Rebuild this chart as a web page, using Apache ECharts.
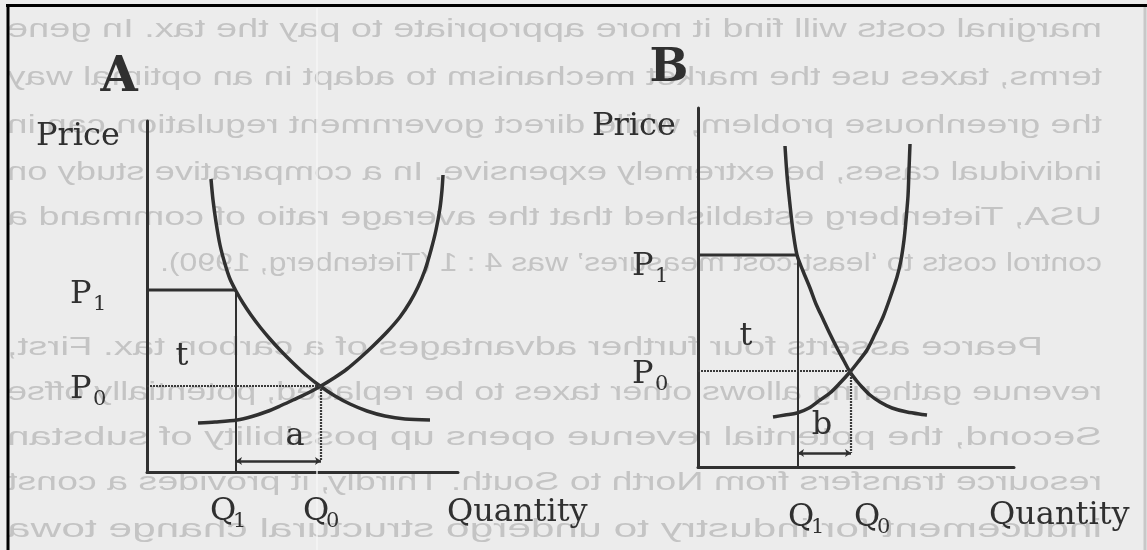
<!DOCTYPE html>
<html>
<head>
<meta charset="utf-8">
<script src="https://cdn.jsdelivr.net/npm/echarts@6/dist/echarts.min.js"></script>
<style>
  html, body { margin: 0; padding: 0; background: #ececec; }
  #chart { width: 1147px; height: 550px; }
</style>
</head>
<body>
<div id="chart"></div>
<script>
// panel A: [quantity, price] (origin = axis corner)
const demandA = [[64, 293], [66, 272], [69, 250], [73, 227], [78, 208], [83, 193], [89, 181], [96, 169], [104, 157], [113, 145], [123, 133], [134, 121], [146, 109], [159, 97], [173, 86], [188, 76], [203, 68], [220, 61], [238, 56], [258, 53], [283, 52]];
const supplyA = [[51, 49], [68, 50], [90, 52], [105, 55.5], [120, 60.5], [133, 66], [146, 72], [160, 78.5], [173, 85.5], [187, 94], [200, 103], [213, 114], [226, 126], [240, 140], [253, 155], [263, 170], [271, 185], [278, 202], [284, 222], [289, 242], [293, 264], [295, 282], [296, 297]];
const levelsA = { p1: 182, p0: 86, q1: 89, q0: 174, gap: 11 };

// panel B
const demandB = [[87, 321], [89, 292], [92, 262], [95, 236], [99, 212], [105, 196], [112, 179], [118, 163], [125, 148], [132, 133], [139, 119], [146, 106], [152, 95], [158, 87], [164, 80], [172, 72], [182, 65], [194, 59], [209, 55], [229, 52]];
const supplyB = [[75, 50], [87, 52], [99, 54], [111, 59], [122, 67], [132, 74], [142, 84], [152, 95], [160, 105], [169, 117], [177, 133], [185, 150], [192, 169], [199, 190], [203, 207], [206, 227], [208, 247], [210, 271], [211, 297], [212, 323]];
const levelsB = { p1: 212, p0: 96, q1: 100, q0: 153, gap: 14 };

const axisMax = [[311, 351], [316, 359]];

// faint mirrored page text showing through the scan
const pageText = [
  'marginal costs will find it more appropriate to pay the tax. In gene',
  'terms, taxes use the market mechanism to adapt in an optimal way',
  'the greenhouse problem, while direct government regulation can in',
  'individual cases, be extremely expensive. In a comparative study on',
  'USA, Tietenberg established that the average ratio of command a',
  'control costs to \u2018least-cost measures\u2019 was 4 : 1 (Tietenberg, 1990).',
  'Pearce asserts four further advantages of a carbon tax. First,',
  'revenue gathering allows other taxes to be replaced, potentially offse',
  'Second, the potential revenue opens up possibility of substan',
  'resource transfers from North to South. Thirdly, it provides a const',
  'inducement for industry to undergo structural change towa'
];
const pageRows = [30, 78, 126, 173, 218, 264, 348, 393, 438, 483, 530];
const pageStart = [1102, 1102, 1102, 1102, 1102, 1102, 1043, 1102, 1102, 1102, 1102];
const pageEnd = [7, 7, 7, 7, 7, 160, 7, 7, 7, 7, 7];

const ink = '#303030';
const serif = '"DejaVu Serif", "Liberation Serif", serif';
const pageFont = '26px "Liberation Sans", Arial, sans-serif';

const chart = echarts.init(document.getElementById('chart'));

function axis(kind, i) {
  return {
    type: 'value', gridIndex: i, min: 0, max: axisMax[i][kind === 'x' ? 0 : 1],
    axisLine: { show: true, onZero: false, lineStyle: { color: ink, width: 3 } },
    axisTick: { show: false }, axisLabel: { show: false }, splitLine: { show: false }
  };
}

function curve(data, i) {
  return {
    type: 'line', xAxisIndex: i, yAxisIndex: i, data: data, smooth: 0.3,
    smoothMonotone: 'none', symbol: 'none', silent: true, z: 3,
    lineStyle: { color: ink, width: 3.5 }
  };
}

function guides(lv, i) {
  return [
    { type: 'line', xAxisIndex: i, yAxisIndex: i, symbol: 'none', silent: true,
      data: [[0, lv.p1], [lv.q1, lv.p1]], lineStyle: { color: ink, width: 2.8 } },
    { type: 'line', xAxisIndex: i, yAxisIndex: i, symbol: 'none', silent: true,
      data: [[lv.q1, lv.p1], [lv.q1, 0]], lineStyle: { color: ink, width: 2 } },
    { type: 'line', xAxisIndex: i, yAxisIndex: i, symbol: 'none', silent: true,
      data: [[0, lv.p0], [lv.q0, lv.p0], [lv.q0, lv.gap]],
      lineStyle: { color: '#3a3a3a', width: 2.2, type: [2, 1] } },
    { type: 'lines', coordinateSystem: 'cartesian2d', xAxisIndex: i, yAxisIndex: i, silent: true,
      symbol: ['arrow', 'arrow'], symbolSize: 6,
      data: [{ coords: [[lv.q1, lv.gap], [lv.q0, lv.gap]] }],
      lineStyle: { color: ink, width: 2.5, opacity: 1 } }
  ];
}

function txt(s, x, y, size, opt) {
  return {
    type: 'text', x: x, y: y, silent: true, z: 10,
    style: Object.assign({ text: s, font: size + 'px ' + serif, fill: ink, align: 'left', verticalAlign: 'middle' }, opt || {})
  };
}

// letter with subscript
function sub(main, small, x, y) {
  return [txt(main, x, y, 32), txt(small, x + 23, y + 10, 21)];
}

const labels = [
  txt('A', 119, 79, 48, { align: 'center', font: 'bold 48px ' + serif }),
  txt('B', 669, 69, 46, { align: 'center', font: 'bold 46px ' + serif }),
  txt('Price', 36, 137, 32),
  txt('Price', 592, 127, 32),
  ...sub('P', '1', 70, 295),
  ...sub('P', '0', 70, 390),
  ...sub('Q', '1', 210, 512),
  ...sub('Q', '0', 303, 512),
  txt('Quantity', 447, 513, 32),
  txt('t', 182, 357, 32, { align: 'center' }),
  txt('a', 295, 437, 32, { align: 'center' }),
  ...sub('P', '1', 632, 267),
  ...sub('P', '0', 632, 375),
  ...sub('Q', '1', 788, 518),
  ...sub('Q', '0', 854, 518),
  txt('Quantity', 989, 516, 32),
  txt('t', 746, 337, 32, { align: 'center' }),
  txt('b', 822, 426, 32, { align: 'center' })
];

// mirrored, stretched lines of the page behind the figure
const measure = document.createElement('canvas').getContext('2d');
measure.font = pageFont;
const pageLayer = pageText.map(function (s, k) {
  const w = measure.measureText(s).width;
  const target = pageStart[k] - pageEnd[k];
  return {
    type: 'text', x: pageStart[k], y: pageRows[k], scaleX: -target / w, silent: true, z: 0,
    style: { text: s, font: pageFont, fill: '#c4c4c4', align: 'left', verticalAlign: 'middle' }
  };
});

const frame = [
  { type: 'rect', silent: true, z: 1, shape: { x: 316, y: 8, width: 2, height: 542 }, style: { fill: '#f6f6f6', opacity: 0.7 } },
  { type: 'line', silent: true, z: 20, shape: { x1: 6, y1: 5.5, x2: 1147, y2: 5.5 }, style: { stroke: '#000', lineWidth: 3 } },
  { type: 'line', silent: true, z: 20, shape: { x1: 8, y1: 4, x2: 8, y2: 550 }, style: { stroke: '#000', lineWidth: 3 } },
  { type: 'line', silent: true, z: 20, shape: { x1: 1145, y1: 7, x2: 1145, y2: 550 }, style: { stroke: '#c8c8c8', lineWidth: 3 } }
];

chart.setOption({
  backgroundColor: '#ececec',
  animation: false,
  grid: [
    { left: 147, top: 121, width: 311, height: 351 },
    { left: 698, top: 108, width: 316, height: 359 }
  ],
  xAxis: [axis('x', 0), axis('x', 1)],
  yAxis: [axis('y', 0), axis('y', 1)],
  series: [
    curve(demandA, 0), curve(supplyA, 0), ...guides(levelsA, 0),
    curve(demandB, 1), curve(supplyB, 1), ...guides(levelsB, 1)
  ],
  graphic: [...pageLayer, ...frame, ...labels]
});
</script>
</body>
</html>
